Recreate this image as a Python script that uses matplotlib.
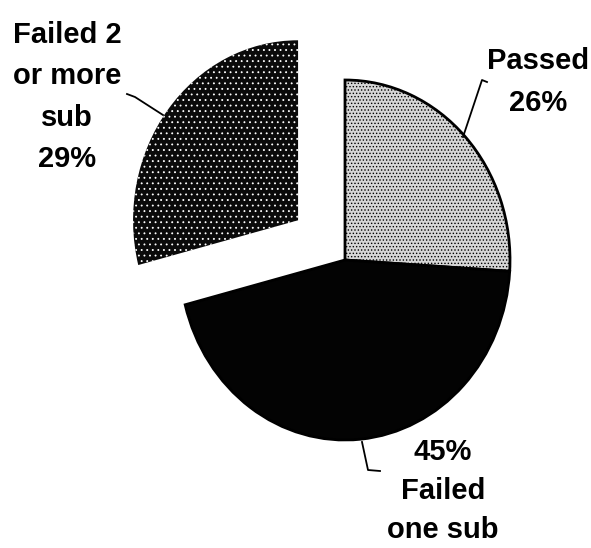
import matplotlib.pyplot as plt
from matplotlib.lines import Line2D

# results share (percent)
categories = ['Passed', 'Failed one sub', 'Failed 2 or more sub']
shares = [26, 45, 29]
label_text = ['Passed\n26%', '45%\nFailed\none sub', 'Failed 2\nor more\nsub\n29%']
explode = [0, 0, 0.36]

W, H = 591, 548
cx, cy = 345, 260      # pie centre, pixels from top-left
rx, ry = 165, 180      # the scan is a bit stretched vertically

plt.rcParams['font.family'] = ['Liberation Sans', 'DejaVu Sans']
plt.rcParams['hatch.linewidth'] = 0.6

fig = plt.figure(figsize=(W / 100, H / 100), dpi=100)
ax = fig.add_axes([0, 0, 1, 1])

wedges, _ = ax.pie(shares, startangle=90, counterclock=False, explode=explode,
                   wedgeprops=dict(linewidth=2))
ax.set_aspect('auto')
ax.set_xlim(-cx / rx, (W - cx) / rx)
ax.set_ylim((cy - H) / ry, cy / ry)

# passed: light stipple with black outline
wedges[0].set_facecolor('#d6d6d6')
wedges[0].set_edgecolor('black')
wedges[0].set_hatch('.....')
# failed one sub: solid black
wedges[1].set_facecolor('#030303')
wedges[1].set_edgecolor('black')
# failed 2+: black with white dot grid
wedges[2].set_facecolor('#0a0a0a')
wedges[2].set_edgecolor('white')
wedges[2].set_linewidth(0)
wedges[2].set_hatch('...')


def px(x, y):
    return x / W, 1 - y / H


# labels, pixel positions of the text centre
label_pos = [(538, 82), (443, 491), (67, 97)]
spacing = [1.62, 1.5, 1.62]
for txt, (x, y), ls in zip(label_text, label_pos, spacing):
    fx, fy = px(x, y)
    fig.text(fx, fy, txt, ha='center', va='center', fontsize=21,
             fontweight='bold', linespacing=ls)

# leader lines
leaders = [
    [(487, 82), (482, 80), (463, 137)],
    [(380, 471), (368, 470), (362, 442)],
    [(127, 94), (135, 97), (163, 115)],
]
for pts in leaders:
    xs, ys = zip(*[px(x, y) for x, y in pts])
    fig.add_artist(Line2D(xs, ys, color='black', linewidth=1.3))

fig.savefig('out.png', dpi=100)
